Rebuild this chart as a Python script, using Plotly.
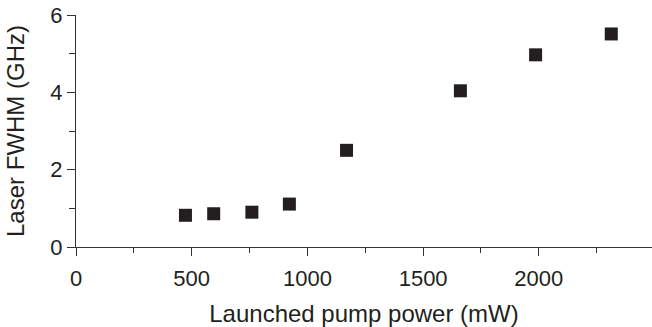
import plotly.graph_objects as go

pump_power_mw = [473, 595, 760, 922, 1169, 1661, 1986, 2313]
fwhm_ghz = [0.82, 0.86, 0.90, 1.11, 2.50, 4.04, 4.97, 5.51]

x_tickvals = [0, 500, 1000, 1500, 2000]
y_tickvals = [0, 2, 4, 6]

ink = "#231f20"
axis_col = "#333333"
font_family = "Liberation Sans, Arial, Helvetica, sans-serif"

fig = go.Figure(
    go.Scatter(
        x=pump_power_mw,
        y=fwhm_ghz,
        mode="markers",
        marker=dict(symbol="square", size=13, color=ink, line=dict(width=0)),
        hoverinfo="x+y",
    )
)

fig.update_layout(
    width=652,
    height=327,
    margin=dict(l=76, r=0, t=15, b=80),
    paper_bgcolor="white",
    plot_bgcolor="white",
    showlegend=False,
    font=dict(family=font_family, color=ink, size=22),
)

fig.update_xaxes(
    range=[0, 2489],
    automargin=False,
    tickmode="array",
    tickvals=x_tickvals,
    ticktext=[str(v) for v in x_tickvals],
    ticks="outside",
    ticklen=8,
    tickwidth=1.3,
    tickcolor=axis_col,
    ticklabelstandoff=3,
    minor=dict(dtick=250, tick0=0, ticks="outside", ticklen=5, tickwidth=1.3, tickcolor=axis_col, showgrid=False),
    showline=True,
    linecolor=axis_col,
    linewidth=1.3,
    showgrid=False,
    zeroline=False,
    tickfont=dict(size=22, color=ink),
    title=dict(text="Launched pump power (mW)", font=dict(size=24, color=ink), standoff=16),
)

fig.update_yaxes(
    range=[0, 6],
    automargin=False,
    tickmode="array",
    tickvals=y_tickvals,
    ticktext=[str(v) for v in y_tickvals],
    ticks="outside",
    ticklen=8,
    tickwidth=1.3,
    tickcolor=axis_col,
    minor=dict(dtick=1, tick0=0, ticks="outside", ticklen=6, tickwidth=1.3, tickcolor=axis_col, showgrid=False),
    showline=True,
    linecolor=axis_col,
    linewidth=1.3,
    showgrid=False,
    zeroline=False,
    tickfont=dict(size=22, color=ink),
    title=dict(text="Laser FWHM (GHz)", font=dict(size=24, color=ink), standoff=18),
)

fig.write_html(
    "out.html",
    config={"displayModeBar": False},
    post_script="document.body.style.margin='0';",
)
